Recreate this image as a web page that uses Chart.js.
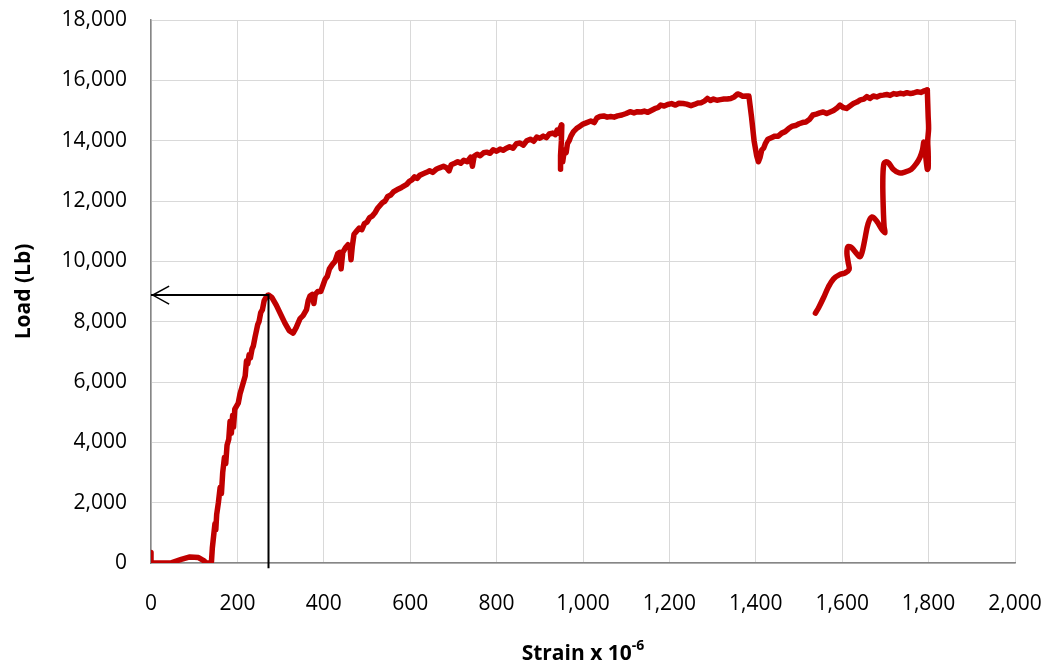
<!DOCTYPE html>
<html>
<head>
<meta charset="utf-8">
<script src="https://cdn.jsdelivr.net/npm/chart.js@4.4.1/dist/chart.umd.min.js"></script>
<style>
  html, body { margin: 0; padding: 0; background: #fff; }
  #wrap { position: relative; width: 1048px; height: 669px; }
  #xTitle {
    position: absolute; left: 0; width: 1166px; top: 637px;
    text-align: center; font: bold 21px "Open Sans", sans-serif; color: #000;
  }
  #xTitle sup { font-size: 14px; position: relative; top: -2px; }
</style>
</head>
<body>
<div id="wrap">
  <canvas id="chart" width="1048" height="669"></canvas>
  <div id="xTitle">Strain x 10<sup>-6</sup></div>
</div>
<script>
// tick values
const xTickValues = [0, 200, 400, 600, 800, 1000, 1200, 1400, 1600, 1800, 2000];
const yTickValues = [0, 2000, 4000, 6000, 8000, 10000, 12000, 14000, 16000, 18000];

// toe region + elastic rise to first peak
const elasticStrain = [0, 0, 20, 45, 70, 90, 110, 122, 128, 135, 140, 142, 145, 148, 150, 152, 156, 160, 163, 166, 170, 173, 176, 180, 183, 186, 189, 191, 194, 198, 202, 206, 210, 214, 218, 221, 224, 227, 230, 234, 237, 241, 244, 247, 250, 254, 258, 262, 266, 270, 272];
const elasticLoad = [350, 0, 0, 0, 120, 200, 180, 80, 0, 0, 50, 500, 900, 1300, 1100, 1600, 2000, 2500, 2300, 3000, 3500, 3300, 3900, 4100, 4700, 4300, 4900, 4500, 5100, 5200, 5300, 5600, 5800, 6000, 6200, 6700, 6600, 6900, 6800, 7100, 7200, 7500, 7700, 7900, 8000, 8300, 8400, 8700, 8800, 8870, 8880];

// dip after first peak, then hardening up to first drop near 950
const hardenStrain = [280, 290, 300, 310, 320, 329, 336, 345, 352, 360, 364, 368, 373, 377, 380, 386, 393, 398, 403, 408, 413, 420, 426, 432, 437, 440, 444, 450, 456, 461, 463, 466, 470, 476, 482, 488, 494, 500, 506, 512, 518, 524, 530, 536, 542, 548, 555, 561, 567, 573, 580, 586, 592, 598, 604, 610, 616, 622, 630, 638, 645, 652, 660, 668, 677, 684, 690, 695, 703, 710, 717, 724, 732, 740, 744, 748, 755, 762, 770, 777, 785, 792, 800, 808, 815, 823, 830, 838, 846, 854, 862, 870, 878, 886, 893, 900, 908, 915, 922, 930, 936, 940, 944, 948, 951];
const hardenLoad = [8800, 8550, 8250, 7950, 7700, 7620, 7800, 8100, 8200, 8400, 8700, 8850, 8900, 8600, 8900, 9000, 9000, 9200, 9400, 9500, 9750, 9900, 10000, 10250, 10300, 9750, 10300, 10450, 10550, 10400, 10050, 10500, 10900, 11000, 11100, 11050, 11250, 11300, 11450, 11500, 11600, 11750, 11850, 11950, 12000, 12150, 12200, 12300, 12350, 12400, 12450, 12500, 12550, 12650, 12700, 12800, 12750, 12850, 12900, 12950, 13000, 12950, 13050, 13100, 13150, 13100, 13000, 13200, 13250, 13300, 13250, 13350, 13300, 13450, 13150, 13480, 13550, 13500, 13600, 13620, 13580, 13700, 13650, 13720, 13680, 13750, 13800, 13750, 13900, 13920, 13850, 14000, 14050, 13980, 14120, 14080, 14150, 14100, 14220, 14250, 14200, 14350, 14250, 14450, 14520];

// first drop, recovery and second drop near 1400, then up to 1800
const plateauStrain = [950, 948, 947, 949, 951, 953, 955, 958, 961, 964, 968, 972, 978, 985, 993, 1000, 1009, 1018, 1026, 1032, 1039, 1048, 1056, 1064, 1072, 1080, 1090, 1100, 1109, 1118, 1126, 1135, 1142, 1150, 1158, 1166, 1174, 1180, 1188, 1196, 1205, 1214, 1222, 1232, 1240, 1250, 1258, 1266, 1274, 1282, 1288, 1295, 1302, 1310, 1318, 1326, 1334, 1342, 1350, 1358, 1364, 1370, 1378, 1384, 1390, 1396, 1402, 1406, 1410, 1414, 1418, 1422, 1428, 1436, 1444, 1452, 1460, 1468, 1476, 1484, 1492, 1500, 1508, 1516, 1524, 1532, 1540, 1548, 1556, 1564, 1572, 1580, 1588, 1595, 1602, 1610, 1618, 1626, 1634, 1642, 1650, 1657, 1664, 1672, 1680, 1688, 1695, 1703, 1711, 1719, 1727, 1734, 1742, 1750, 1758, 1765, 1773, 1782, 1790, 1797];
const plateauLoad = [14000, 13500, 13050, 13200, 13600, 13300, 13500, 13700, 13600, 13900, 14000, 14150, 14300, 14400, 14480, 14550, 14600, 14650, 14600, 14750, 14800, 14820, 14780, 14800, 14780, 14820, 14850, 14900, 14960, 14920, 14960, 14950, 14980, 14940, 15000, 15060, 15100, 15180, 15150, 15200, 15230, 15180, 15240, 15230, 15210, 15160, 15200, 15250, 15260, 15320, 15400, 15330, 15380, 15340, 15360, 15380, 15380, 15400, 15450, 15550, 15520, 15470, 15480, 15480, 14800, 14000, 13500, 13300, 13450, 13700, 13750, 13900, 14050, 14100, 14150, 14150, 14250, 14300, 14400, 14480, 14500, 14560, 14600, 14620, 14700, 14850, 14880, 14920, 14950, 14900, 14950, 15000, 15080, 15180, 15100, 15070, 15150, 15230, 15280, 15350, 15380, 15460, 15400, 15480, 15450, 15500, 15510, 15530, 15500, 15560, 15540, 15570, 15550, 15590, 15560, 15580, 15620, 15600, 15650, 15680];

// failure: drop at 1800 and the wavy unloading path back to 1540
const failureStrain = [1797, 1799, 1800, 1798, 1799, 1799, 1797, 1792, 1789, 1786, 1780, 1772, 1760, 1745, 1732, 1718, 1708, 1701, 1696, 1694, 1695, 1697, 1699, 1690, 1680, 1669, 1660, 1652, 1646, 1641, 1632, 1622, 1613, 1611, 1614, 1616, 1607, 1594, 1580, 1568, 1557, 1546, 1538];
const failureLoad = [15680, 14800, 14400, 14000, 13600, 13100, 13050, 13650, 13950, 13700, 13450, 13250, 13050, 12960, 12930, 13050, 13250, 13300, 13200, 12600, 11800, 11150, 10950, 11100, 11330, 11470, 11250, 10700, 10300, 10150, 10280, 10450, 10480, 10250, 9950, 9730, 9620, 9560, 9420, 9150, 8800, 8480, 8280];

// marker for the first peak
const markerStrain = [0, 272, 272];
const markerLoad = [8880, 8880, -170];
const arrowStrain = [42, 4, 42];
const arrowLoad = [9180, 8880, 8580];

function toPoints(xs, ys) {
    return xs.map((x, i) => ({ x: x, y: ys[i] }));
}

const curveStrain = elasticStrain.concat(hardenStrain, plateauStrain);
const curveLoad = elasticLoad.concat(hardenLoad, plateauLoad);

const fmt = v => Number(v).toLocaleString('en-US');
const red = '#C00000';

const ctx = document.getElementById('chart').getContext('2d');
new Chart(ctx, {
    type: 'line',
    data: {
        datasets: [
            {
                data: toPoints(markerStrain, markerLoad),
                borderColor: '#000000',
                borderWidth: 2,
                pointRadius: 0,
                clip: false
            },
            {
                data: toPoints(arrowStrain, arrowLoad),
                borderColor: '#000000',
                borderWidth: 1.5,
                pointRadius: 0
            },
            {
                data: toPoints(curveStrain, curveLoad),
                borderColor: red,
                borderWidth: 5.5,
                borderJoinStyle: 'round',
                borderCapStyle: 'round',
                pointRadius: 0,
                tension: 0
            },
            {
                data: toPoints(failureStrain, failureLoad),
                borderColor: red,
                borderWidth: 5.5,
                borderJoinStyle: 'round',
                borderCapStyle: 'round',
                pointRadius: 0,
                tension: 0.35
            }
        ]
    },
    options: {
        responsive: false,
        animation: false,
        events: [],
        layout: { padding: { left: 0, right: 33, top: 20, bottom: 0 } },
        plugins: {
            legend: { display: false },
            tooltip: { enabled: false }
        },
        scales: {
            x: {
                type: 'linear',
                min: 0,
                max: 2000,
                afterBuildTicks: s => { s.ticks = xTickValues.map(v => ({ value: v })); },
                afterFit: s => {
                    s.height = 106;
                    s.paddingLeft = 0; s.paddingRight = 0;
                    s.paddingTop = 0; s.paddingBottom = 0;
                },
                grid: { color: '#d9d9d9', lineWidth: 1, drawTicks: false },
                border: { color: '#868686', width: 1.5 },
                ticks: {
                    padding: 28,
                    color: '#000',
                    font: { family: '"Open Sans", sans-serif', size: 21 },
                    callback: v => fmt(v),
                    maxRotation: 0,
                    autoSkip: false
                }
            },
            y: {
                min: 0,
                max: 18000,
                afterBuildTicks: s => { s.ticks = yTickValues.map(v => ({ value: v })); },
                afterFit: s => {
                    s.width = 151;
                    s.paddingLeft = 0; s.paddingRight = 0;
                    s.paddingTop = 0; s.paddingBottom = 0;
                },
                grid: { color: '#d9d9d9', lineWidth: 1, drawTicks: false },
                border: { color: '#868686', width: 1.5 },
                ticks: {
                    padding: 24,
                    color: '#000',
                    font: { family: '"Open Sans", sans-serif', size: 21 },
                    callback: v => fmt(v),
                    autoSkip: false
                },
                title: {
                    display: true,
                    text: 'Load (Lb)',
                    color: '#000',
                    font: { family: '"Open Sans", sans-serif', size: 21, weight: 'bold' },
                    padding: { top: 11, bottom: 0 }
                }
            }
        }
    }
});
</script>
</body>
</html>
